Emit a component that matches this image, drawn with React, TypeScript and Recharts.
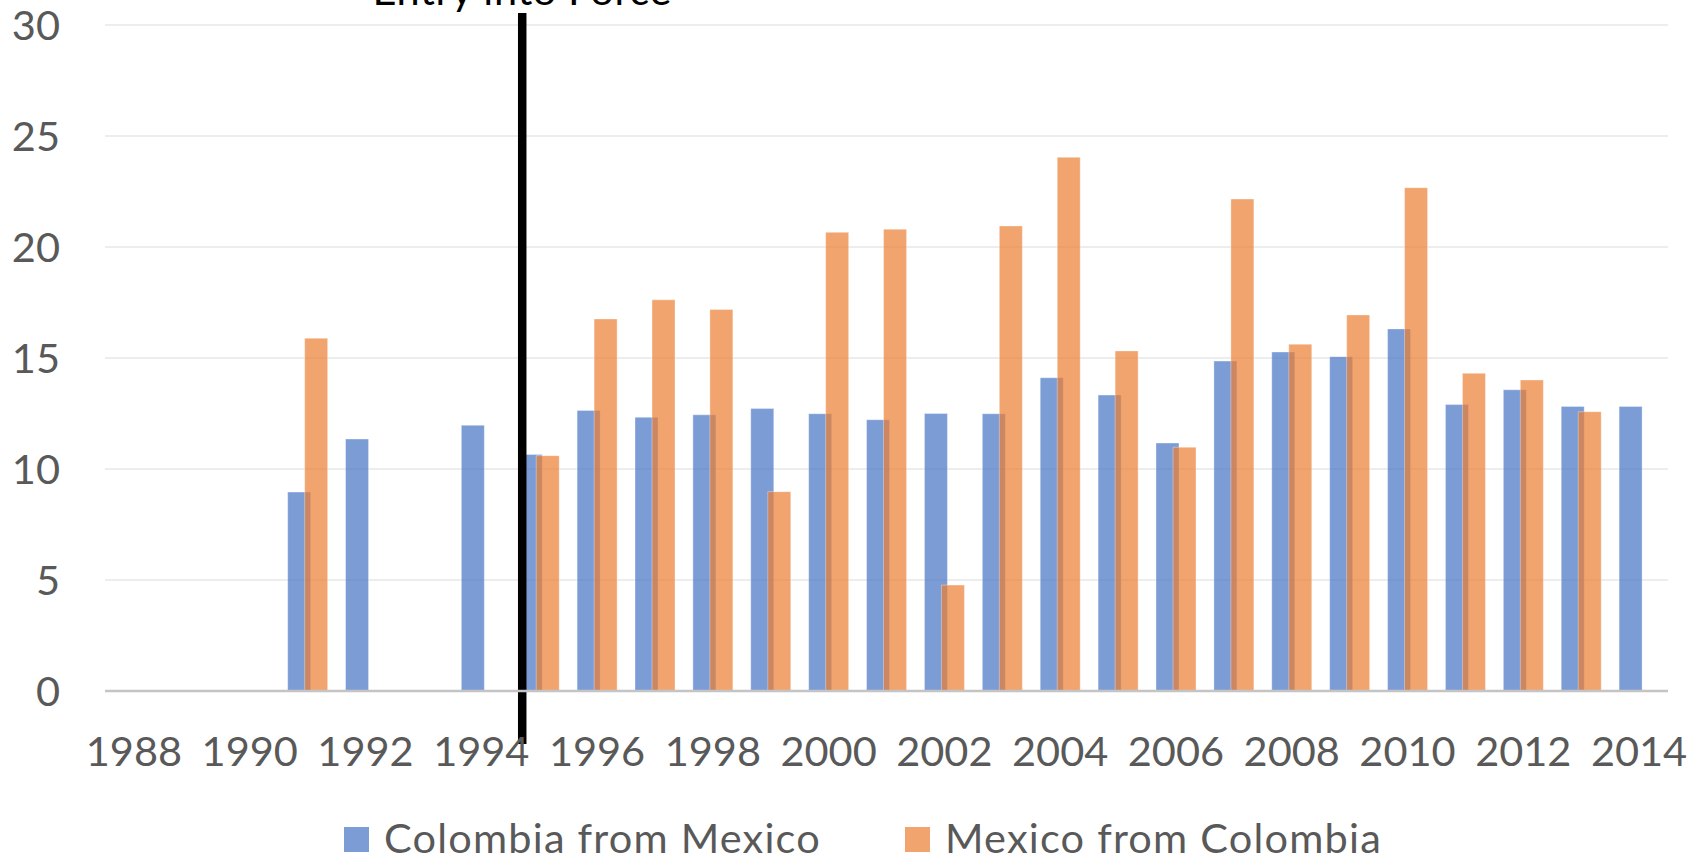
import React from 'react';
import { BarChart, Bar, XAxis, YAxis, CartesianGrid, Legend, ReferenceLine } from 'recharts';

const years = [
  '1988', '1989', '1990', '1991', '1992', '1993', '1994', '1995', '1996', '1997',
  '1998', '1999', '2000', '2001', '2002', '2003', '2004', '2005', '2006', '2007',
  '2008', '2009', '2010', '2011', '2012', '2013', '2014',
];

const colombiaFromMexico = [
  null, null, null, 8.96, 11.35, null, 11.97, 10.65, 12.64, 12.33,
  12.44, 12.72, 12.49, 12.22, 12.5, 12.49, 14.11, 13.33, 11.17, 14.86,
  15.27, 15.06, 16.31, 12.9, 13.57, 12.82, 12.82,
];

const mexicoFromColombia = [
  null, null, null, 15.89, null, null, null, 10.6, 16.76, 17.62,
  17.19, 8.98, 20.66, 20.8, 4.77, 20.95, 24.04, 15.32, 10.98, 22.16,
  15.62, 16.94, 22.67, 14.31, 14.01, 12.58, null,
];

const xTicks = ['1988', '1990', '1992', '1994', '1996', '1998', '2000', '2002', '2004', '2006', '2008', '2010', '2012', '2014'];
const yTicks = [0, 5, 10, 15, 20, 25, 30];

const entryYear = '1995';
const entryLabel = 'Entry into Force';

const seriesNames = ['Colombia from Mexico', 'Mexico from Colombia'];
const seriesColors = ['#4472C4', '#ED7D31'];

const data = years.map((year, i) => ({
  year,
  cm: colombiaFromMexico[i],
  mc: mexicoFromColombia[i],
}));

const FONT = "Lato, 'Open Sans', sans-serif";
const TEXT = '#595959';
const FS = 41.5;

const EntryLine = (props: any) => {
  const { x1, y1, y2 } = props;
  const top = Math.min(y1, y2);
  const bottom = Math.max(y1, y2);
  const x = x1 + 12;
  return (
    <g>
      <line x1={x} x2={x} y1={top - 12} y2={bottom + 53} stroke="#000" strokeWidth={8.5} />
      <text
        x={x}
        y={top - 20}
        textAnchor="middle"
        fontSize={FS}
        fill="#000"
        fontFamily={FONT}
        letterSpacing={0.6}
      >
        {entryLabel}
      </text>
    </g>
  );
};

const LegendContent = (props: any) => {
  const payload = props.payload || [];
  return (
    <div
      style={{
        display: 'flex',
        alignItems: 'center',
        paddingLeft: 344,
        height: 40,
        lineHeight: '40px',
        fontFamily: FONT,
        fontSize: FS,
        color: TEXT,
        letterSpacing: 1.2,
      }}
    >
      {payload.map((entry: any, i: number) => (
        <div
          key={entry.value}
          style={{ display: 'flex', alignItems: 'center', width: i === 0 ? 561 : 'auto', whiteSpace: 'nowrap' }}
        >
          <span
            style={{
              display: 'inline-block',
              width: 25,
              height: 25,
              marginTop: 4,
              background: entry.color,
              opacity: 0.7,
              marginRight: 15,
            }}
          />
          <span>{entry.value}</span>
        </div>
      ))}
    </div>
  );
};

export default function App() {
  return (
    <div style={{ position: 'absolute', left: 0, top: 0, background: '#fff' }}>
      <BarChart
        width={1701}
        height={861}
        data={data}
        margin={{ top: 25, right: 33, bottom: 0, left: 0 }}
        barSize={23}
        barGap={-6}
      >
        <CartesianGrid vertical={false} stroke="#EDEDED" strokeWidth={2} />
        <XAxis
          dataKey="year"
          ticks={xTicks}
          interval={0}
          height={130}
          tickLine={false}
          axisLine={{ stroke: '#C4C4C4', strokeWidth: 2.5 }}
          tickMargin={40}
          tick={{ fill: TEXT, fontSize: FS, fontFamily: FONT }}
        />
        <YAxis
          domain={[0, 30]}
          ticks={yTicks}
          width={105}
          axisLine={false}
          tickLine={false}
          tickMargin={39}
          tick={{ fill: TEXT, fontSize: FS, fontFamily: FONT }}
        />
        <Legend
          verticalAlign="bottom"
          content={<LegendContent />}
          wrapperStyle={{ top: 817, left: 0, width: 1701, height: 40 }}
        />
        <Bar
          dataKey="cm"
          name={seriesNames[0]}
          fill={seriesColors[0]}
          fillOpacity={0.7}
          stroke="#ffffff"
          strokeOpacity={0.35}
          strokeWidth={1}
          isAnimationActive={false}
        />
        <Bar
          dataKey="mc"
          name={seriesNames[1]}
          fill={seriesColors[1]}
          fillOpacity={0.7}
          stroke="#ffffff"
          strokeOpacity={0.35}
          strokeWidth={1}
          isAnimationActive={false}
        />
        <ReferenceLine x={entryYear} position="start" shape={EntryLine} ifOverflow="visible" />
      </BarChart>
    </div>
  );
}
